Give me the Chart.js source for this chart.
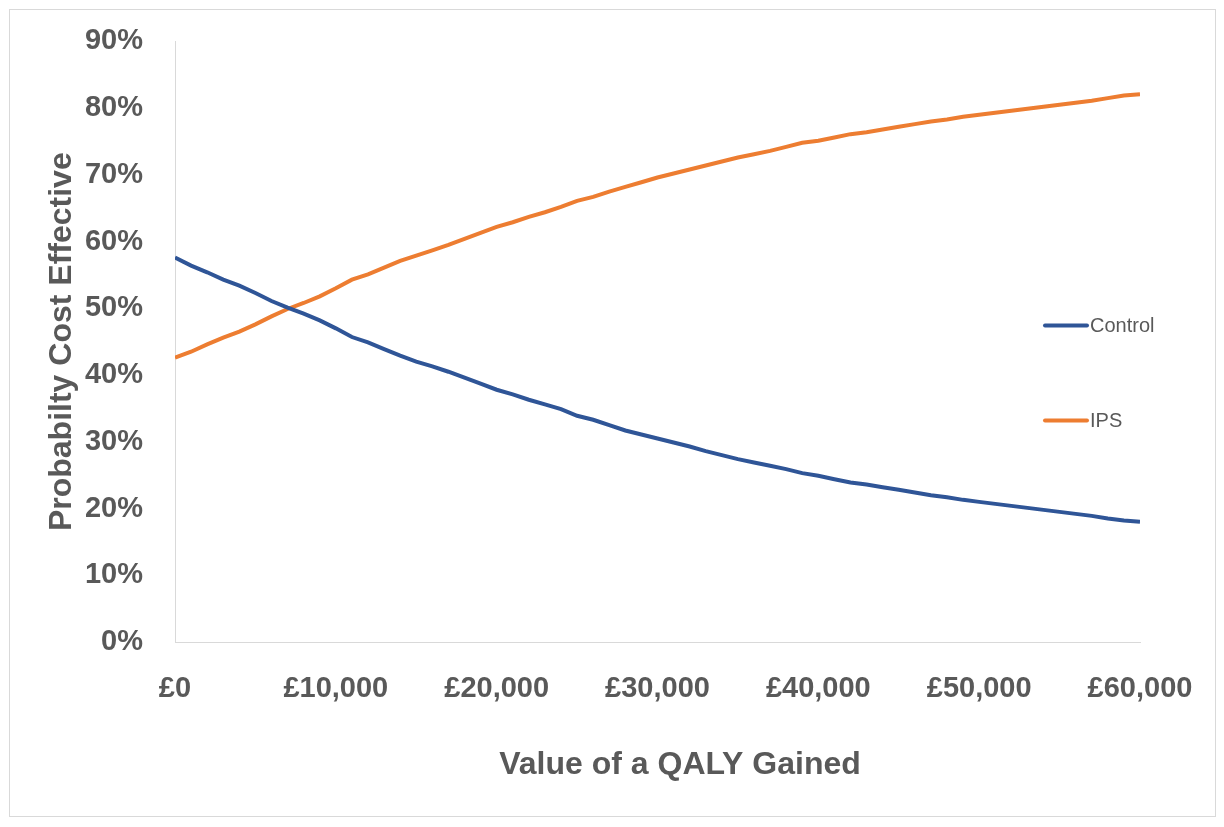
<!DOCTYPE html>
<html>
<head>
<meta charset="utf-8">
<script src="https://cdn.jsdelivr.net/npm/chart.js@4.4.1/dist/chart.umd.min.js"></script>
<style>
  html, body { margin: 0; padding: 0; background: #fff; }
  #wrap { position: relative; width: 1224px; height: 827px; }
  #frame { position: absolute; left: 9px; top: 9px; width: 1205px; height: 806px;
           border: 1px solid #d9d9d9; pointer-events: none; }
</style>
</head>
<body>
<div id="wrap">
  <canvas id="ceac" width="1224" height="827"></canvas>
  <div id="frame"></div>
</div>
<script>
// Willingness to pay per QALY (£), one point every £1,000
const wtp = [];
for (let i = 0; i <= 60; i++) wtp.push(i * 1000);

// Probability cost effective (%)
const controlValues = [
  57.6, 56.4, 55.4, 54.3, 53.4, 52.3, 51.1, 50.1, 49.2, 48.2,
  47.0, 45.7, 44.9, 43.9, 42.9, 42.0, 41.3, 40.5, 39.6, 38.7,
  37.8, 37.1, 36.3, 35.6, 34.9, 33.9, 33.3, 32.5, 31.7, 31.1,
  30.5, 29.9, 29.3, 28.6, 28.0, 27.4, 26.9, 26.4, 25.9, 25.3,
  24.9, 24.4, 23.9, 23.6, 23.2, 22.8, 22.4, 22.0, 21.7, 21.3,
  21.0, 20.7, 20.4, 20.1, 19.8, 19.5, 19.2, 18.9, 18.5, 18.2, 18.0
];
const ipsValues = [
  42.6, 43.5, 44.6, 45.6, 46.5, 47.6, 48.8, 49.9, 50.8, 51.8,
  53.0, 54.3, 55.1, 56.1, 57.1, 57.9, 58.7, 59.5, 60.4, 61.3,
  62.2, 62.9, 63.7, 64.4, 65.2, 66.1, 66.7, 67.5, 68.2, 68.9,
  69.6, 70.2, 70.8, 71.4, 72.0, 72.6, 73.1, 73.6, 74.2, 74.8,
  75.1, 75.6, 76.1, 76.4, 76.8, 77.2, 77.6, 78.0, 78.3, 78.7,
  79.0, 79.3, 79.6, 79.9, 80.2, 80.5, 80.8, 81.1, 81.5, 81.9, 82.1
];
const seriesNames = ["Control", "IPS"];
const seriesColors = ["#2f5597", "#ed7d31"];
const xTitle = "Value of a QALY Gained";
const yTitle = "Probabilty Cost Effective";

const textGrey = "#595959";
const axisGrey = "#d9d9d9";
const fontFam = "'Liberation Sans', Arial, sans-serif";

function toPoints(values) {
  return values.map((v, i) => ({ x: wtp[i], y: v }));
}

// Legend inside the plot area + x title a little right of centre, as in the original
const extras = {
  id: "extras",
  afterDraw(chart) {
    const ctx = chart.ctx;
    const area = chart.chartArea;
    const x0 = area.right - 95;
    const rows = [area.top + 284, area.top + 379];
    ctx.save();
    ctx.font = "20px " + fontFam;
    ctx.textBaseline = "middle";
    chart.data.datasets.forEach((ds, i) => {
      const y = rows[i];
      ctx.strokeStyle = ds.borderColor;
      ctx.lineWidth = 4;
      ctx.lineCap = "round";
      ctx.beginPath();
      ctx.moveTo(x0, y);
      ctx.lineTo(x0 + 42, y);
      ctx.stroke();
      ctx.fillStyle = textGrey;
      ctx.fillText(ds.label, x0 + 45, y + 1);
    });

    ctx.font = "bold 32px " + fontFam;
    ctx.textAlign = "center";
    ctx.fillStyle = textGrey;
    ctx.fillText(xTitle, 680, area.bottom + 123);
    ctx.restore();
  }
};

const ctx = document.getElementById("ceac").getContext("2d");
new Chart(ctx, {
  type: "line",
  data: {
    datasets: [
      {
        label: seriesNames[0],
        data: toPoints(controlValues),
        borderColor: seriesColors[0],
        backgroundColor: seriesColors[0],
        borderWidth: 4,
        pointRadius: 0,
        tension: 0,
      },
      {
        label: seriesNames[1],
        data: toPoints(ipsValues),
        borderColor: seriesColors[1],
        backgroundColor: seriesColors[1],
        borderWidth: 4,
        pointRadius: 0,
        tension: 0,
      },
    ],
  },
  options: {
    responsive: false,
    animation: false,
    layout: { padding: { left: 0, right: 84, top: 38, bottom: 0 } },
    scales: {
      x: {
        type: "linear",
        min: 0,
        max: 60000,
        grid: { display: false },
        border: { display: true, color: axisGrey, width: 1 },
        ticks: {
          stepSize: 10000,
          padding: 22,
          maxRotation: 0,
          color: textGrey,
          font: { family: fontFam, size: 29, weight: "bold" },
          callback: (v) => "£" + v.toLocaleString("en-GB"),
        },
        title: { display: false },
        afterFit: (s) => { s.height = 185; },
      },
      y: {
        min: 0,
        max: 90,
        grid: { display: false },
        border: { display: true, color: axisGrey, width: 1 },
        ticks: {
          stepSize: 10,
          padding: 24,
          color: textGrey,
          font: { family: fontFam, size: 29, weight: "bold" },
          callback: (v) => v + "%",
        },
        title: {
          display: true,
          text: yTitle,
          color: textGrey,
          font: { family: fontFam, size: 32, weight: "bold" },
          padding: { top: 43, bottom: 20 },
        },
        afterFit: (s) => { s.width = 175; },
      },
    },
    plugins: {
      legend: { display: false },
      tooltip: { enabled: false },
    },
  },
  plugins: [extras],
});
</script>
</body>
</html>
